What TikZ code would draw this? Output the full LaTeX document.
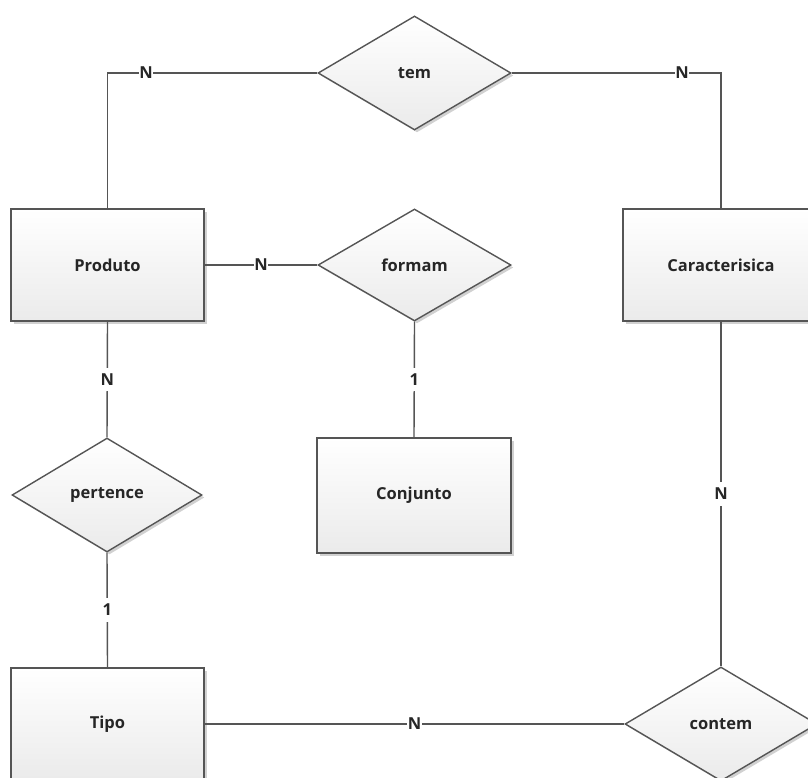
\documentclass[tikz,border=0pt]{standalone}
\usepackage{fontspec}
\setmainfont{Open Sans}
\usetikzlibrary{shapes.geometric,shadows}
\definecolor{edgecol}{HTML}{555555}
\definecolor{txtcol}{HTML}{262626}
\tikzset{
  base/.style={draw=edgecol, line width=1.4pt, top color=white, bottom color=black!8,
    drop shadow={shadow xshift=2.5pt, shadow yshift=-2.5pt, opacity=0.18, fill=black},
    text=txtcol, font=\fontsize{16.5}{19}\selectfont\bfseries, inner sep=0pt},
  entity/.style={base, rectangle},
  relation/.style={base, diamond},
  conn/.style={draw=edgecol, line width=1.4pt},
  card/.style={fill=white, inner sep=2.5pt, text=txtcol, font=\fontsize{16.5}{19}\selectfont\bfseries}
}
\begin{document}
\begin{tikzpicture}[x=1pt,y=-1pt]
\useasboundingbox[fill=white] (0,0) rectangle (808,778);
\node[entity, minimum width=193pt, minimum height=112pt] (produto) at (107.5,265) {Produto};
\node[entity, minimum width=196pt, minimum height=112pt] (carac) at (721,265) {Caracterisica};
\node[entity, minimum width=193pt, minimum height=112pt] (tipo) at (107.5,724) {Tipo};
\node[entity, minimum width=194pt, minimum height=115pt] (conj) at (414,495.5) {Conjunto};
\node[relation, minimum width=193pt, minimum height=114pt] (tem) at (414.5,73) {tem};
\node[relation, minimum width=193pt, minimum height=112pt] (formam) at (414.5,265) {formam};
\node[relation, minimum width=190pt, minimum height=114pt] (pertence) at (107,495) {pertence};
\node[relation, minimum width=192pt, minimum height=114pt] (contem) at (721,724) {contem};
\draw[conn] (produto.north) |- (tem.west) node[card, pos=0.592, inner xsep=0.5pt] {N};
\draw[conn] (tem.east) -| (carac.north) node[card, pos=0.407, inner xsep=0.5pt] {N};
\draw[conn] (produto.east) -- (formam.west) node[card, pos=0.5, inner xsep=0.5pt] {N};
\draw[conn] (produto.south) -- (pertence.north) node[card, pos=0.5, inner ysep=6pt] {N};
\draw[conn] (pertence.south) -- (tipo.north) node[card, pos=0.5, inner ysep=6pt] {1};
\draw[conn] (formam.south) -- (conj.north) node[card, pos=0.5, inner ysep=6pt] {1};
\draw[conn] (carac.south) -- (contem.north) node[card, pos=0.5, inner ysep=6pt] {N};
\draw[conn] (tipo.east) -- (contem.west) node[card, pos=0.5, inner xsep=0.5pt] {N};
\end{tikzpicture}
\end{document}
